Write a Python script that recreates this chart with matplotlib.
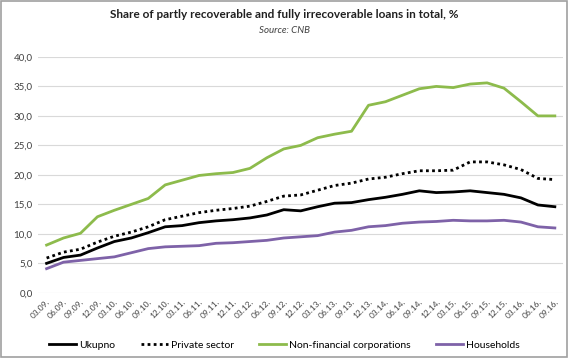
import numpy as np
from matplotlib import pyplot as plt
from matplotlib.patches import Rectangle

plt.rcParams['font.family'] = ['Lato', 'DejaVu Sans']

quarters = ['03', '06', '09', '12']
labels = [f'{q}.{y:02d}.' for y in range(9, 17) for q in quarters][:31]

ukupno = [5.0, 6.0, 6.4, 7.6, 8.7, 9.3, 10.2, 11.2, 11.4, 11.9, 12.2, 12.4, 12.7, 13.2,
          14.1, 13.9, 14.6, 15.2, 15.3, 15.8, 16.2, 16.7, 17.3, 17.0, 17.1, 17.3, 17.0,
          16.7, 16.1, 14.9, 14.6]
private = [5.9, 6.9, 7.4, 8.6, 9.6, 10.3, 11.2, 12.4, 13.0, 13.6, 14.0, 14.3, 14.7, 15.5,
           16.4, 16.6, 17.4, 18.2, 18.6, 19.3, 19.6, 20.2, 20.7, 20.7, 20.8, 22.2, 22.2,
           21.7, 20.9, 19.4, 19.2]
nonfin = [8.1, 9.3, 10.1, 12.9, 14.0, 15.0, 16.0, 18.3, 19.1, 19.9, 20.2, 20.4, 21.1, 22.9,
          24.4, 25.0, 26.3, 26.9, 27.4, 31.8, 32.4, 33.5, 34.6, 35.0, 34.8, 35.4, 35.6,
          34.7, 32.4, 30.0, 30.0]
households = [4.1, 5.2, 5.5, 5.8, 6.1, 6.8, 7.5, 7.8, 7.9, 8.0, 8.4, 8.5, 8.7, 8.9,
              9.3, 9.5, 9.7, 10.3, 10.6, 11.2, 11.4, 11.8, 12.0, 12.1, 12.3, 12.2, 12.2,
              12.3, 12.0, 11.2, 11.0]

fig = plt.figure(figsize=(5.69, 3.58), dpi=100)
fig.patches.append(Rectangle((0.002, 0.003), 0.994, 0.994, transform=fig.transFigure,
                             fill=False, edgecolor='#a0a0a0', linewidth=1.2))
ax = fig.add_axes([0.067, 0.182, 0.923, 0.659])

xs = np.arange(len(labels))
ax.plot(xs, ukupno, color='black', lw=2.0, label='Ukupno')
ax.plot(xs, private, color='black', lw=2.0, ls=(0, (1, 1.2)), label='Private sector')
ax.plot(xs, nonfin, color='#8dbb4c', lw=2.0, label='Non-financial corporations')
ax.plot(xs, households, color='#7e62a8', lw=2.0, label='Households')

ax.set_xlim(-0.5, len(labels) - 0.5)
ax.set_ylim(0, 40)
yt = np.arange(0, 41, 5)
ax.set_yticks(yt)
ax.set_yticklabels([f'{v:.1f}'.replace('.', ',') for v in yt], fontsize=7, color='#404040')
ax.set_xticks(xs)
ax.set_xticklabels(labels, rotation=45, ha='right', rotation_mode='anchor',
                   fontsize=6, color='#404040')
ax.tick_params(length=0, pad=4)
ax.grid(axis='y', color='#d9d9d9', lw=0.8)
ax.set_axisbelow(True)
for s in ax.spines.values():
    s.set_visible(False)

fig.text(0.5, 0.96, 'Share of partly recoverable and fully irrecoverable loans in total, %',
         ha='center', va='center', fontsize=8.5, fontweight='bold', color='#202020')
fig.text(0.5, 0.915, 'Source: CNB', ha='center', va='center', fontsize=7,
         style='italic', color='#404040')

fig.legend(loc='center', bbox_to_anchor=(0.5, 0.035), ncol=4, frameon=False,
           fontsize=7.5, handlelength=2.6, handletextpad=0.3, columnspacing=2.4)

fig.savefig('out.png', dpi=100)
